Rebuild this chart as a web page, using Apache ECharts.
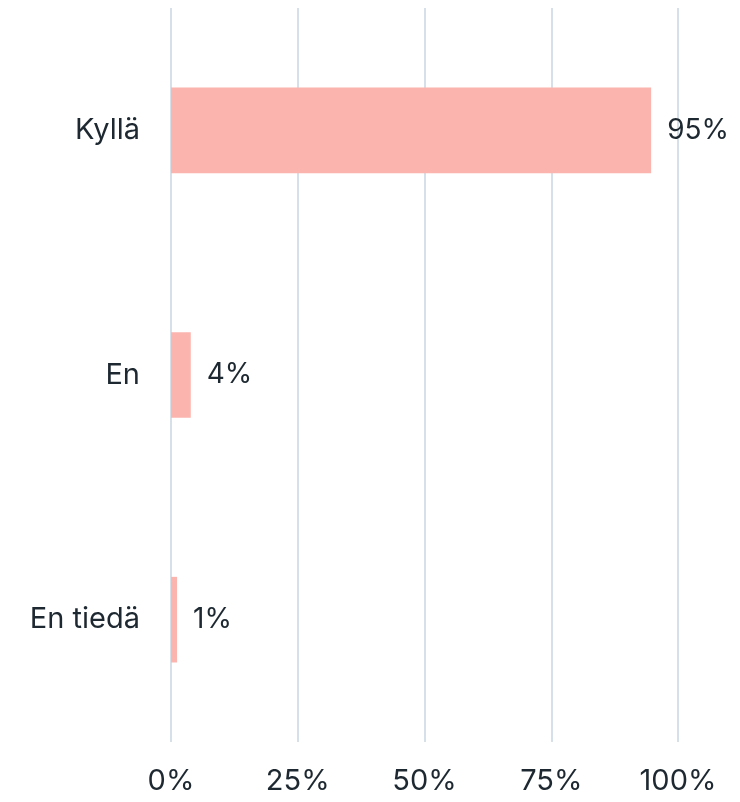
<!DOCTYPE html>
<html>
<head>
<meta charset="utf-8">
<script src="https://cdn.jsdelivr.net/npm/echarts@6/dist/echarts.min.js"></script>
<style>
  html, body { margin: 0; padding: 0; background: #fff; }
  #chart { width: 740px; height: 802px; }
</style>
</head>
<body>
<div id="chart"></div>
<script>
const categories = ['Kyllä', 'En', 'En tiedä']
// bar lengths; labels show rounded values
const values = [94.7, 3.9, 1.2]
const tickValues = [0, 25, 50, 75, 100]

const chart = echarts.init(document.getElementById('chart'))
const textColor = '#1d2830'
const font = 'Inter, "Noto Sans", sans-serif'

chart.setOption({
  animation: false,
  backgroundColor: '#ffffff',
  grid: { left: 171, right: 62, top: 8, bottom: 60 },
  xAxis: {
    type: 'value',
    min: 0,
    max: 100,
    interval: 25,
    axisLine: { show: false },
    axisTick: { show: false },
    splitLine: { lineStyle: { color: '#d6e0e8', width: 2 } },
    axisLabel: {
      color: textColor,
      fontSize: 29,
      fontFamily: font,
      margin: 25,
      formatter: (v) => (tickValues.includes(v) ? v + '%' : '')
    }
  },
  yAxis: {
    type: 'category',
    data: categories,
    inverse: true,
    axisLine: { show: false },
    axisTick: { show: false },
    splitLine: { show: false },
    axisLabel: { color: textColor, fontSize: 29, fontFamily: font, margin: 31 }
  },
  series: [
    {
      type: 'bar',
      data: values,
      barWidth: '35%',
      itemStyle: { color: '#fbb4ae' },
      label: {
        show: true,
        position: 'right',
        distance: 16,
        color: textColor,
        fontSize: 28,
        fontFamily: font,
        formatter: (p) => Math.round(p.value) + '%'
      }
    }
  ]
})
</script>
</body>
</html>
